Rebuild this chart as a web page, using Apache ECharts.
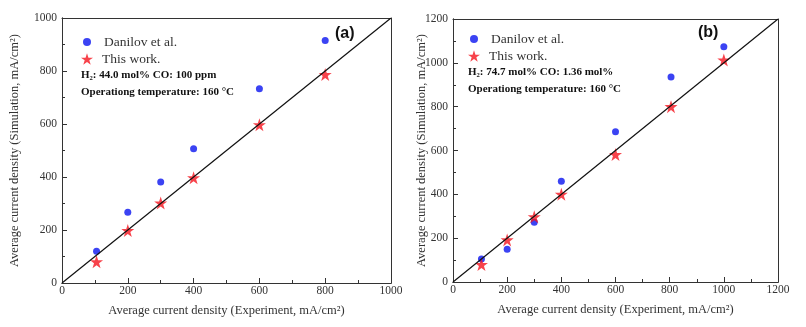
<!DOCTYPE html>
<html><head><meta charset="utf-8">
<script src="https://cdn.jsdelivr.net/npm/echarts@6/dist/echarts.min.js"></script>
<style>html,body{margin:0;padding:0;background:#fff}#c{width:806px;height:327px}</style>
</head><body><div id="c"></div>
<script>
// Panel (a)
const aDanilov = [[105,120],[200,267],[300,381],[400,507],[600,733],[800,915]];
const aThisWork = [[105,80],[200,198],[300,302],[400,397],[600,597],[800,787]];
const aMax = 1000;
// Panel (b)
const bDanilov = [[105,105],[200,150],[300,273],[400,460],[600,686],[805,935],[1000,1073]];
const bThisWork = [[105,80],[200,192],[300,298],[400,400],[600,582],[805,800],[1000,1013]];
const bMax = 1200;
const xName = 'Average current density (Experiment, mA/cm\u00B2)';
const yName = 'Average current density (Simulation, mA/cm\u00B2)';
const nameDanilov = 'Danilov et al.';
const nameThis = 'This work.';

const serif = '"Liberation Serif","Times New Roman",serif';
function axis(max, gap, isX, grid){
  return {
    gridIndex:grid,
    type:'value', min:0, max:max, interval:200,
    name: isX ? xName : yName, nameLocation:'middle', nameGap:gap, nameMoveOverlap:false,
    nameTextStyle:{fontFamily:serif, fontSize:12.5, color:'#333'},
    axisLine:{show:true, lineStyle:{color:'#333', width:1}},
    axisTick:{show:true, inside:true, length:5, lineStyle:{color:'#333', width:1}},
    minorTick:{show:true, splitNumber:2, length:3, lineStyle:{color:'#333', width:1}},
    axisLabel:{fontFamily:serif, fontSize:11.5, color:'#333', margin: isX?2:5, formatter:function(v){return String(v);}},
    splitLine:{show:false}
  };
}
function ticks(max, grid){
  return {gridIndex:grid, type:'value', min:0, max:max, interval:200,
    axisLine:{show:true, lineStyle:{color:'#333', width:1}},
    axisLabel:{show:false},
    axisTick:{show:true, inside:true, length:5, lineStyle:{color:'#333', width:1}},
    minorTick:{show:true, splitNumber:2, length:3, lineStyle:{color:'#333', width:1}},
    splitLine:{show:false}};
}
function frame(max, pos, grid){
  return {gridIndex:grid, type:'value', min:0, max:max, interval:200, position:pos,
    axisLine:{show:true, onZero:false, lineStyle:{color:'#333', width:1}},
    axisTick:{show:false}, axisLabel:{show:false}, splitLine:{show:false}};
}
const chart = echarts.init(document.getElementById('c'));
const star = 'path://M50,0 L61.8,35.3 L99,35.3 L69,57.1 L80.4,92.7 L50,70.9 L19.6,92.7 L31,57.1 L1,35.3 L38.2,35.3 Z';
function leg(x, y, name, icon, size){
  return {left:x, top:y, orient:'vertical', itemWidth:size, itemHeight:size, itemGap:0,
    textStyle:{fontFamily:serif, fontSize:13.5, color:'#333', padding:[0,0,0,16-size]},
    data:[{name:name, icon:icon}]};
}
chart.setOption({
  animation:false,
  grid:[
    {left:62, top:18, width:329, height:265},
    {left:453, top:19, width:325, height:263},
    {left:62, top:18, width:329, height:265},
    {left:453, top:19, width:325, height:263}
  ],
  xAxis:[axis(aMax,21,true,0), axis(bMax,21,true,1), frame(aMax,'top',0), frame(bMax,'top',1), ticks(aMax,2), ticks(bMax,3)],
  yAxis:[axis(aMax,41,false,0), axis(bMax,25,false,1), frame(aMax,'right',0), frame(bMax,'right',1), ticks(aMax,2), ticks(bMax,3)],
  legend:[
    leg(78, 30, nameDanilov, 'circle', 8),
    leg(76, 47, nameThis, star, 12),
    leg(465, 27, nameDanilov, 'circle', 8),
    leg(463, 44, nameThis, star, 12)
  ],
  graphic:[
    {type:'text', left:81, top:70, style:{text:'H\u2082: 44.0 mol% CO: 100 ppm', font:'bold 11px '+serif, fill:'#111'}},
    {type:'text', left:81, top:87, style:{text:'Operationg temperature: 160 \u00B0C', font:'bold 11px '+serif, fill:'#111'}},
    {type:'text', left:335, top:26, style:{text:'(a)', font:'bold 16px "Liberation Sans",Arial,sans-serif', fill:'#111'}},
    {type:'text', left:468, top:67, style:{text:'H\u2082: 74.7 mol% CO: 1.36 mol%', font:'bold 11px '+serif, fill:'#111'}},
    {type:'text', left:468, top:84, style:{text:'Operationg temperature: 160 \u00B0C', font:'bold 11px '+serif, fill:'#111'}},
    {type:'text', left:698, top:25, style:{text:'(b)', font:'bold 16px "Liberation Sans",Arial,sans-serif', fill:'#111'}}
  ],
  series:[
    {type:'scatter', xAxisIndex:4, yAxisIndex:4, data:[], silent:true},
    {type:'scatter', xAxisIndex:5, yAxisIndex:5, data:[], silent:true},
    {type:'line', xAxisIndex:0, yAxisIndex:0, data:[[0,0],[aMax,aMax]], showSymbol:false, lineStyle:{color:'#111', width:1.2}, silent:true},
    {type:'line', xAxisIndex:1, yAxisIndex:1, data:[[0,0],[bMax,bMax]], showSymbol:false, lineStyle:{color:'#111', width:1.2}, silent:true},
    {name:nameDanilov, type:'scatter', xAxisIndex:0, yAxisIndex:0, data:aDanilov, symbol:'circle', symbolSize:7, itemStyle:{color:'#0a14f0'}},
    {name:nameThis, type:'scatter', xAxisIndex:0, yAxisIndex:0, data:aThisWork, symbol:star, symbolSize:13, itemStyle:{color:'#f5141e'}},
    {name:nameDanilov, type:'scatter', xAxisIndex:1, yAxisIndex:1, data:bDanilov, symbol:'circle', symbolSize:7, itemStyle:{color:'#0a14f0'}},
    {name:nameThis, type:'scatter', xAxisIndex:1, yAxisIndex:1, data:bThisWork, symbol:star, symbolSize:13, itemStyle:{color:'#f5141e'}}
  ]
});
</script></body></html>
